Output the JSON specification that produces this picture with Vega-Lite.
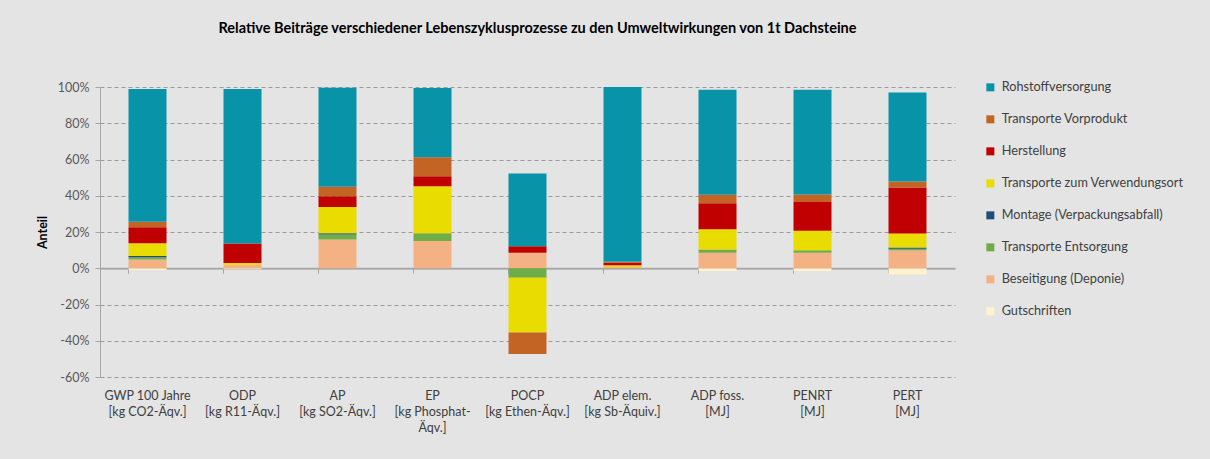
{
  "$schema": "https://vega.github.io/schema/vega-lite/v6.json",
  "autosize": {"type": "none"},
  "width": 855,
  "height": 290,
  "padding": {"left": 100, "top": 87, "right": 255, "bottom": 82},
  "background": "#e4e4e4",
  "config": {
    "view": {"stroke": null},
    "font": "Lato",
    "axis": {"labelFont": "Lato", "titleFont": "Lato"},
    "legend": {"labelFont": "Lato"}
  },
  "title": {
    "text": "Relative Beiträge verschiedener Lebenszyklusprozesse zu den Umweltwirkungen von 1t Dachsteine",
    "font": "Lato",
    "fontSize": 14.5,
    "fontWeight": "bold",
    "color": "#000000",
    "anchor": "middle",
    "dx": 10,
    "offset": 45
  },
  "data": {
    "values": [
      {"cat": "GWP 100 Jahre|[kg CO2-Äqv.]", "proc": "Gutschriften", "ord": 0, "v": -1.0},
      {"cat": "GWP 100 Jahre|[kg CO2-Äqv.]", "proc": "Beseitigung (Deponie)", "ord": 1, "v": 4.8},
      {"cat": "GWP 100 Jahre|[kg CO2-Äqv.]", "proc": "Transporte Entsorgung", "ord": 2, "v": 1.3},
      {"cat": "GWP 100 Jahre|[kg CO2-Äqv.]", "proc": "Montage (Verpackungsabfall)", "ord": 3, "v": 0.7},
      {"cat": "GWP 100 Jahre|[kg CO2-Äqv.]", "proc": "Transporte zum Verwendungsort", "ord": 4, "v": 7.0},
      {"cat": "GWP 100 Jahre|[kg CO2-Äqv.]", "proc": "Herstellung", "ord": 5, "v": 8.8},
      {"cat": "GWP 100 Jahre|[kg CO2-Äqv.]", "proc": "Transporte Vorprodukt", "ord": 6, "v": 3.1},
      {"cat": "GWP 100 Jahre|[kg CO2-Äqv.]", "proc": "Rohstoffversorgung", "ord": 7, "v": 73.2},

      {"cat": "ODP|[kg R11-Äqv.]", "proc": "Gutschriften", "ord": 0, "v": -0.5},
      {"cat": "ODP|[kg R11-Äqv.]", "proc": "Beseitigung (Deponie)", "ord": 1, "v": 2.0},
      {"cat": "ODP|[kg R11-Äqv.]", "proc": "Transporte zum Verwendungsort", "ord": 4, "v": 0.9},
      {"cat": "ODP|[kg R11-Äqv.]", "proc": "Herstellung", "ord": 5, "v": 10.7},
      {"cat": "ODP|[kg R11-Äqv.]", "proc": "Rohstoffversorgung", "ord": 7, "v": 85.3},

      {"cat": "AP|[kg SO2-Äqv.]", "proc": "Beseitigung (Deponie)", "ord": 1, "v": 15.8},
      {"cat": "AP|[kg SO2-Äqv.]", "proc": "Transporte Entsorgung", "ord": 2, "v": 2.8},
      {"cat": "AP|[kg SO2-Äqv.]", "proc": "Montage (Verpackungsabfall)", "ord": 3, "v": 0.7},
      {"cat": "AP|[kg SO2-Äqv.]", "proc": "Transporte zum Verwendungsort", "ord": 4, "v": 14.5},
      {"cat": "AP|[kg SO2-Äqv.]", "proc": "Herstellung", "ord": 5, "v": 5.9},
      {"cat": "AP|[kg SO2-Äqv.]", "proc": "Transporte Vorprodukt", "ord": 6, "v": 5.3},
      {"cat": "AP|[kg SO2-Äqv.]", "proc": "Rohstoffversorgung", "ord": 7, "v": 54.6},

      {"cat": "EP|[kg Phosphat-|Äqv.]", "proc": "Beseitigung (Deponie)", "ord": 1, "v": 15.1},
      {"cat": "EP|[kg Phosphat-|Äqv.]", "proc": "Transporte Entsorgung", "ord": 2, "v": 4.2},
      {"cat": "EP|[kg Phosphat-|Äqv.]", "proc": "Transporte zum Verwendungsort", "ord": 4, "v": 25.9},
      {"cat": "EP|[kg Phosphat-|Äqv.]", "proc": "Herstellung", "ord": 5, "v": 5.5},
      {"cat": "EP|[kg Phosphat-|Äqv.]", "proc": "Transporte Vorprodukt", "ord": 6, "v": 10.5},
      {"cat": "EP|[kg Phosphat-|Äqv.]", "proc": "Rohstoffversorgung", "ord": 7, "v": 38.2},

      {"cat": "POCP|[kg Ethen-Äqv.]", "proc": "Beseitigung (Deponie)", "ord": 1, "v": 8.5},
      {"cat": "POCP|[kg Ethen-Äqv.]", "proc": "Transporte Entsorgung", "ord": 2, "v": -5.3},
      {"cat": "POCP|[kg Ethen-Äqv.]", "proc": "Transporte zum Verwendungsort", "ord": 4, "v": -30.2},
      {"cat": "POCP|[kg Ethen-Äqv.]", "proc": "Herstellung", "ord": 5, "v": 3.7},
      {"cat": "POCP|[kg Ethen-Äqv.]", "proc": "Transporte Vorprodukt", "ord": 6, "v": -11.8},
      {"cat": "POCP|[kg Ethen-Äqv.]", "proc": "Rohstoffversorgung", "ord": 7, "v": 40.1},

      {"cat": "ADP elem.|[kg Sb-Äquiv.]", "proc": "Beseitigung (Deponie)", "ord": 1, "v": 0.7},
      {"cat": "ADP elem.|[kg Sb-Äquiv.]", "proc": "Transporte zum Verwendungsort", "ord": 4, "v": 0.9},
      {"cat": "ADP elem.|[kg Sb-Äquiv.]", "proc": "Herstellung", "ord": 5, "v": 1.5},
      {"cat": "ADP elem.|[kg Sb-Äquiv.]", "proc": "Transporte Vorprodukt", "ord": 6, "v": 0.5},
      {"cat": "ADP elem.|[kg Sb-Äquiv.]", "proc": "Rohstoffversorgung", "ord": 7, "v": 96.4},

      {"cat": "ADP foss.|[MJ]", "proc": "Gutschriften", "ord": 0, "v": -1.5},
      {"cat": "ADP foss.|[MJ]", "proc": "Beseitigung (Deponie)", "ord": 1, "v": 8.5},
      {"cat": "ADP foss.|[MJ]", "proc": "Transporte Entsorgung", "ord": 2, "v": 1.8},
      {"cat": "ADP foss.|[MJ]", "proc": "Transporte zum Verwendungsort", "ord": 4, "v": 11.2},
      {"cat": "ADP foss.|[MJ]", "proc": "Herstellung", "ord": 5, "v": 14.3},
      {"cat": "ADP foss.|[MJ]", "proc": "Transporte Vorprodukt", "ord": 6, "v": 4.8},
      {"cat": "ADP foss.|[MJ]", "proc": "Rohstoffversorgung", "ord": 7, "v": 57.9},

      {"cat": "PENRT|[MJ]", "proc": "Gutschriften", "ord": 0, "v": -1.5},
      {"cat": "PENRT|[MJ]", "proc": "Beseitigung (Deponie)", "ord": 1, "v": 8.5},
      {"cat": "PENRT|[MJ]", "proc": "Transporte Entsorgung", "ord": 2, "v": 1.5},
      {"cat": "PENRT|[MJ]", "proc": "Transporte zum Verwendungsort", "ord": 4, "v": 10.7},
      {"cat": "PENRT|[MJ]", "proc": "Herstellung", "ord": 5, "v": 15.8},
      {"cat": "PENRT|[MJ]", "proc": "Transporte Vorprodukt", "ord": 6, "v": 4.2},
      {"cat": "PENRT|[MJ]", "proc": "Rohstoffversorgung", "ord": 7, "v": 57.8},

      {"cat": "PERT|[MJ]", "proc": "Gutschriften", "ord": 0, "v": -3.5},
      {"cat": "PERT|[MJ]", "proc": "Beseitigung (Deponie)", "ord": 1, "v": 9.9},
      {"cat": "PERT|[MJ]", "proc": "Transporte Entsorgung", "ord": 2, "v": 0.9},
      {"cat": "PERT|[MJ]", "proc": "Montage (Verpackungsabfall)", "ord": 3, "v": 0.7},
      {"cat": "PERT|[MJ]", "proc": "Transporte zum Verwendungsort", "ord": 4, "v": 7.7},
      {"cat": "PERT|[MJ]", "proc": "Herstellung", "ord": 5, "v": 25.4},
      {"cat": "PERT|[MJ]", "proc": "Transporte Vorprodukt", "ord": 6, "v": 3.3},
      {"cat": "PERT|[MJ]", "proc": "Rohstoffversorgung", "ord": 7, "v": 49.1}
    ]
  },
  "encoding": {
    "x": {
      "field": "cat",
      "type": "nominal",
      "sort": null,
      "scale": {"paddingInner": 0.6, "paddingOuter": 0.3}
    }
  },
  "resolve": {"axis": {"x": "independent"}},
  "layer": [
    {
      "mark": {"type": "bar"},
      "encoding": {
        "x": {
          "field": "cat",
          "type": "nominal",
          "sort": null,
          "axis": {
            "orient": "bottom",
            "title": null,
            "labelAngle": 0,
            "labelExpr": "split(datum.label, '|')",
            "labelFontSize": 12.5,
            "labelColor": "#404040",
            "labelLineHeight": 16,
            "labelPadding": 12,
            "labelBaseline": "top",
            "ticks": false,
            "domain": false,
            "grid": false
          }
        },
        "y": {
          "field": "v",
          "type": "quantitative",
          "stack": "zero",
          "scale": {"domain": [-60, 100], "nice": false},
          "axis": {
            "orient": "left",
            "title": "Anteil",
            "titleFontSize": 12.5,
            "titleFontWeight": "bold",
            "titleColor": "#000000",
            "titlePadding": 8,
            "values": [-60, -40, -20, 0, 20, 40, 60, 80, 100],
            "labelExpr": "datum.value + '%'",
            "labelOverlap": false,
            "labelFontSize": 12.5,
            "labelColor": "#595959",
            "labelPadding": 6,
            "tickSize": 5,
            "tickColor": "#a6a6a6",
            "domainColor": "#a6a6a6",
            "grid": true,
            "gridColor": {"condition": {"test": "datum.value === 0", "value": "#a6a6a6"}, "value": "#9a9a9a"},
            "gridDash": {"condition": {"test": "datum.value === 0", "value": []}, "value": [4, 3]},
            "gridWidth": {"condition": {"test": "datum.value === 0", "value": 1.5}, "value": 1}
          }
        },
        "color": {
          "field": "proc",
          "type": "nominal",
          "scale": {
            "domain": ["Rohstoffversorgung", "Transporte Vorprodukt", "Herstellung", "Transporte zum Verwendungsort", "Montage (Verpackungsabfall)", "Transporte Entsorgung", "Beseitigung (Deponie)", "Gutschriften"],
            "range": ["#0893a8", "#c46424", "#c00000", "#e8dc00", "#1f4e79", "#70ad47", "#f4b183", "#fff2cc"]
          },
          "legend": {
            "title": null,
            "orient": "none",
            "legendX": 884,
            "legendY": -6,
            "symbolType": "square",
            "symbolSize": 64,
            "symbolStrokeWidth": 0,
            "labelFontSize": 12.7,
            "labelColor": "#404040",
            "labelLimit": 0,
            "rowPadding": 18,
            "labelOffset": 5
          }
        },
        "order": {"field": "ord", "type": "quantitative", "sort": "ascending"}
      }
    },
    {
      "mark": {"type": "rule", "color": "#a6a6a6"},
      "encoding": {
        "x": {
          "field": "cat",
          "type": "nominal",
          "sort": null,
          "axis": {
            "orient": "bottom",
            "title": null,
            "labels": false,
            "grid": false,
            "offset": -108.75,
            "bandPosition": 0,
            "ticks": true,
            "tickSize": 5,
            "tickWidth": 1,
            "tickColor": "#a6a6a6",
            "domainColor": "#a6a6a6",
            "domainWidth": 1.5
          }
        },
        "y": {
          "datum": 0,
          "type": "quantitative",
          "axis": {
            "orient": "left",
            "title": "Anteil",
            "titleFontSize": 12.5,
            "titleFontWeight": "bold",
            "titleColor": "#000000",
            "titlePadding": 8,
            "values": [-60, -40, -20, 0, 20, 40, 60, 80, 100],
            "labelExpr": "datum.value + '%'",
            "labelOverlap": false,
            "labelFontSize": 12.5,
            "labelColor": "#595959",
            "labelPadding": 6,
            "tickSize": 5,
            "tickColor": "#a6a6a6",
            "domainColor": "#a6a6a6",
            "grid": true,
            "gridColor": {"condition": {"test": "datum.value === 0", "value": "#a6a6a6"}, "value": "#9a9a9a"},
            "gridDash": {"condition": {"test": "datum.value === 0", "value": []}, "value": [4, 3]},
            "gridWidth": {"condition": {"test": "datum.value === 0", "value": 1.5}, "value": 1}
          }
        },
        "opacity": {"value": 0}
      }
    }
  ]
}
